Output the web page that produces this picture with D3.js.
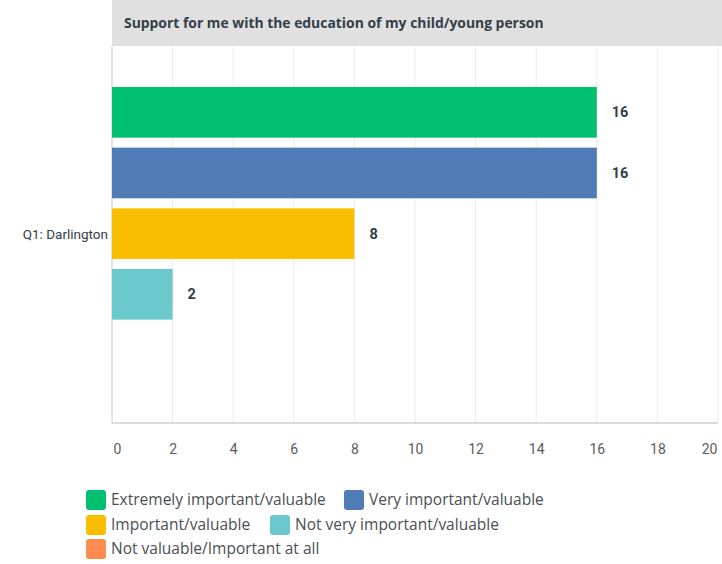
<!DOCTYPE html>
<html><head><meta charset="utf-8">
<script src="https://cdn.jsdelivr.net/npm/d3@7"></script>
<style>body{margin:0;background:#fff;} svg{display:block;font-family:"Open Sans", Roboto, sans-serif;}</style>
</head><body><svg id="c" width="722" height="564"></svg>
<script>
const title = "Support for me with the education of my child/young person";
const category = "Q1: Darlington";
const seriesNames = ["Extremely important/valuable","Very important/valuable","Important/valuable","Not very important/valuable","Not valuable/Important at all"];
const seriesValues = [16, 16, 8, 2, 0];
const seriesColors = ["#00bf6f","#507cb6","#f9be00","#6bc8cd","#ff8b4f"];
const tickValues = [0,2,4,6,8,10,12,14,16,18,20];

const svg = d3.select("#c");
const L = 112, R = 718, T = 46, B = 423;
const x = d3.scaleLinear().domain([0,20]).range([L,R]);
const y = d3.scaleBand().domain(seriesNames).range([87, 380.3]).paddingInner(0.165).paddingOuter(0);

svg.append("rect").attr("x",L).attr("y",0).attr("width",722-L).attr("height",T).attr("fill","#e0e0e0");
svg.append("text").attr("x",124).attr("y",28).attr("fill","#333e48").attr("font-weight","bold").attr("font-size",13.9).text(title);

svg.append("g").selectAll("line").data(tickValues).join("line")
  .attr("x1",d=>x(d)).attr("x2",d=>x(d)).attr("y1",T).attr("y2",B)
  .attr("stroke",d=>d===0?"#c8c8c8":"#ececec").attr("stroke-width",1);
svg.append("line").attr("x1",L).attr("x2",R).attr("y1",B).attr("y2",B).attr("stroke","#d0d0d0").attr("stroke-width",1.5);

const axis = d3.axisBottom(x).tickValues(tickValues).tickSize(0).tickPadding(0);
const ag = svg.append("g").attr("transform",`translate(0,${B+21})`).call(axis);
ag.select(".domain").remove();
ag.selectAll("text").attr("fill","#5b5b5b").attr("font-size",14).attr("font-family","Roboto, sans-serif")
  .attr("dy","0.71em")
  .attr("text-anchor",(d,i)=>i===0?"start":(i===tickValues.length-1?"end":"middle"))
  .attr("dx",(d,i)=>i===0?1:(i===tickValues.length-1?-1:0));

svg.append("g").selectAll("rect").data(seriesNames).join("rect")
  .attr("x",x(0)).attr("y",d=>y(d)).attr("height",y.bandwidth())
  .attr("width",(d,i)=>x(seriesValues[i])-x(0)).attr("fill",(d,i)=>seriesColors[i]);
svg.append("g").selectAll("text").data(seriesNames.filter((d,i)=>seriesValues[i]>0)).join("text")
  .attr("x",d=>x(seriesValues[seriesNames.indexOf(d)])+15).attr("y",d=>y(d)+y.bandwidth()/2).attr("dy","0.35em")
  .attr("fill","#333e48").attr("font-weight","bold").attr("font-size",14.5).attr("font-family","Roboto, sans-serif")
  .text(d=>seriesValues[seriesNames.indexOf(d)]);

svg.append("text").attr("x",108).attr("y",(T+B)/2).attr("dy","0.35em").attr("text-anchor","end")
  .attr("fill","#333e48").attr("font-size",13.5).attr("font-family","Roboto, sans-serif").text(category);

const legPos = [[86,490],[344,490],[86,515],[270,515],[86,539]];
const lg = svg.append("g").selectAll("g").data(seriesNames).join("g")
  .attr("transform",(d,i)=>`translate(${legPos[i][0]},${legPos[i][1]})`);
lg.append("rect").attr("width",20).attr("height",20).attr("rx",3).attr("fill",(d,i)=>seriesColors[i]);
lg.append("text").attr("x",25).attr("y",10).attr("dy","0.35em").attr("fill","#4a4f55").attr("font-size",15.5).text(d=>d);
</script></body></html>
